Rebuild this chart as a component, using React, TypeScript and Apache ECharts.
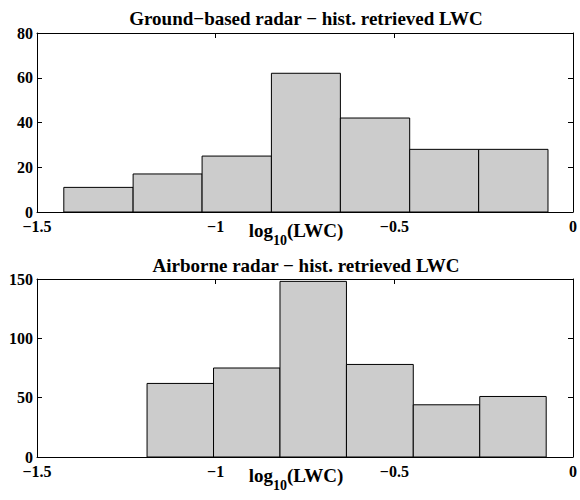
import React, { useEffect, useRef } from "react";
import * as echarts from "echarts";

// Histogram bin edges (log10 LWC) and counts
const groundBinEdges = [-1.425, -1.231, -1.038, -0.844, -0.651, -0.457, -0.264, -0.07];
const groundCounts = [11, 17, 25, 62, 42, 28, 28];
const airBinEdges = [-1.192, -1.006, -0.82, -0.634, -0.447, -0.261, -0.075];
const airCounts = [62, 75, 148, 78, 44, 51];

const xTicks = { min: -1.5, max: 0, interval: 0.5 };
const groundY = { min: 0, max: 80, interval: 20 };
const airY = { min: 0, max: 150, interval: 50 };

const titles = ["Ground\u2212based radar \u2212 hist. retrieved LWC", "Airborne radar \u2212 hist. retrieved LWC"];

const FONT = "'Liberation Serif', 'Times New Roman', serif";

function rows(edges: number[], counts: number[]) {
  return counts.map((c, i) => [edges[i], edges[i + 1], c]);
}

const fmtX = (v: number) => (v === 0 ? "0" : String(v).replace("-", "\u2212"));

export default function App() {
  const ref = useRef<HTMLDivElement>(null);
  useEffect(() => {
    if (!ref.current) return;
    const chart = echarts.init(ref.current, undefined, { renderer: "svg" });
    const grids = [
      { left: 37, top: 33, width: 539, height: 179 },
      { left: 37, top: 279, width: 539, height: 178 },
    ];
    const axisLine = { show: true, onZero: false, lineStyle: { color: "#000", width: 1 } };
    const tick = { show: true, inside: true, length: 5, lineStyle: { color: "#000", width: 1 } };
    const labelStyle = { color: "#000", fontFamily: FONT, fontWeight: "bold" as const, fontSize: 16 };
    const xAxes: any[] = [];
    const yAxes: any[] = [];
    [0, 1].forEach((g) => {
      xAxes.push({
        type: "value",
        gridIndex: g,
        position: "bottom",
        ...xTicks,
        axisLine,
        axisTick: tick,
        splitLine: { show: false },
        axisLabel: { ...labelStyle, margin: 6, formatter: fmtX },
        name: "{a|log}{b|10}{a|(LWC)}",
        nameLocation: "middle",
        nameGap: 1,
        nameMoveOverlap: false,
        nameTextStyle: {
          padding: [0, 18, 0, 0],
          rich: {
            a: { fontFamily: FONT, fontWeight: "bold", fontSize: 19, color: "#000", lineHeight: 34 },
            b: { fontFamily: FONT, fontWeight: "bold", fontSize: 14, color: "#000", lineHeight: 14, verticalAlign: "bottom" },
          },
        },
      });
      xAxes.push({
        type: "value",
        gridIndex: g,
        position: "top",
        ...xTicks,
        axisLine,
        axisTick: tick,
        splitLine: { show: false },
        axisLabel: { show: false },
      });
      const yr = g === 0 ? groundY : airY;
      yAxes.push({
        type: "value",
        gridIndex: g,
        position: "left",
        ...yr,
        axisLine,
        axisTick: tick,
        splitLine: { show: false },
        axisLabel: { ...labelStyle, margin: 4 },
      });
      yAxes.push({
        type: "value",
        gridIndex: g,
        position: "right",
        ...yr,
        axisLine,
        axisTick: tick,
        splitLine: { show: false },
        axisLabel: { show: false },
      });
    });
    const renderItem = (params: any, api: any) => {
      const x0 = api.value(0);
      const x1 = api.value(1);
      const y = api.value(2);
      const p0 = api.coord([x0, y]);
      const p1 = api.coord([x1, 0]);
      return {
        type: "rect",
        shape: { x: p0[0], y: p0[1], width: p1[0] - p0[0], height: p1[1] - p0[1] },
        style: { fill: "#cccccc", stroke: "#000", lineWidth: 1 },
      };
    };
    chart.setOption({
      animation: false,
      backgroundColor: "#fff",
      title: titles.map((t, i) => ({
        text: t,
        left: 306,
        top: i === 0 ? 9 : 256,
        padding: 0,
        textAlign: "center",
        textStyle: { fontFamily: FONT, fontWeight: "bold", fontSize: 19, color: "#000" },
      })),
      grid: grids,
      xAxis: xAxes,
      yAxis: yAxes,
      series: [
        {
          type: "custom",
          xAxisIndex: 0,
          yAxisIndex: 0,
          renderItem,
          encode: { x: [0, 1], y: 2 },
          data: rows(groundBinEdges, groundCounts),
        },
        {
          type: "custom",
          xAxisIndex: 2,
          yAxisIndex: 2,
          renderItem,
          encode: { x: [0, 1], y: 2 },
          data: rows(airBinEdges, airCounts),
        },
      ],
    });
    return () => chart.dispose();
  }, []);
  return (
    <div
      ref={ref}
      style={{ position: "fixed", left: 0, top: 0, width: 580, height: 500, background: "#fff" }}
    />
  );
}
